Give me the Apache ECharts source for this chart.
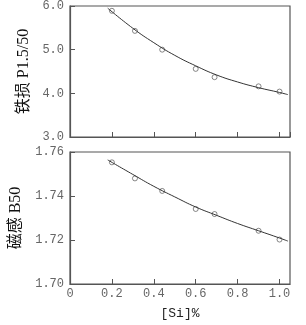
<!DOCTYPE html>
<html><head><meta charset="utf-8">
<script src="https://cdn.jsdelivr.net/npm/echarts@6/dist/echarts.min.js"></script>
<style>html,body{margin:0;padding:0;background:#fff}#c{width:306px;height:325px}</style>
</head><body><div id="c"></div>
<script>
// Data
var siPoints = [0.2, 0.31, 0.44, 0.6, 0.69, 0.9, 1.0];
var ironLoss = [5.89, 5.43, 5.0, 4.56, 4.37, 4.16, 4.04];
var inductionB50 = [1.7553, 1.748, 1.7423, 1.7341, 1.7318, 1.7242, 1.7202];
var fitX = [0.18, 0.3, 0.4, 0.5, 0.6, 0.7, 0.8, 0.9, 1.0, 1.04];
var ironLossFit = [5.95, 5.49, 5.16, 4.87, 4.63, 4.42, 4.26, 4.13, 4.02, 3.97];
var inductionFit = [1.7564, 1.7498, 1.7444, 1.7396, 1.7350, 1.7312, 1.7275, 1.7242, 1.7209, 1.7195];
var xTicks = [0, 0.2, 0.4, 0.6, 0.8, 1.0];
var xTickLabels = ['0', '0.2', '0.4', '0.6', '0.8', '1.0'];
var yTopTickLabels = ['3.0', '4.0', '5.0', '6.0'];
var yBotTickLabels = ['1.70', '1.72', '1.74', '1.76'];
var yTopTitle = '铁损 P1.5/50';
var yBotTitle = '磁感 B50';
var xTitle = '[Si]%';

function pairs(xs, ys){ return xs.map(function(x,i){return [x, ys[i]];}); }
var labelFont = {fontFamily:'Liberation Mono', fontSize:12, color:'#666'};
function xLabelFmt(v){ var i = xTicks.findIndex(function(t){return Math.abs(t-v)<1e-6;}); return i<0?'':xTickLabels[i]; }

var chart = echarts.init(document.getElementById('c'));
var axisLine = {show:true, lineStyle:{color:'#555', width:1.2}};
var tick = {show:true, inside:true, length:5, lineStyle:{color:'#555', width:1}};
var titleFont = {fontFamily:"'Liberation Serif','Noto Sans CJK SC'", fontSize:16, color:'#111'};
var markerStyle = {color:'#fff', borderColor:'#444', borderWidth:0.8};
chart.setOption({
  animation:false,
  grid:[
    {left:70, top:4, width:220, height:133, show:true, borderColor:'#555', borderWidth:1.2},
    {left:70, top:152, width:220, height:132, show:true, borderColor:'#555', borderWidth:1.2}
  ],
  xAxis:[
    {gridIndex:0, type:'value', min:0, max:1.05, interval:0.2, axisLine:axisLine, axisTick:tick, axisLabel:{show:false}, splitLine:{show:false}},
    {gridIndex:1, type:'value', min:0, max:1.05, interval:0.2, axisLine:axisLine, axisTick:tick,
     axisLabel:Object.assign({margin:4, formatter:xLabelFmt, showMaxLabel:false}, labelFont), splitLine:{show:false},
     name:xTitle, nameLocation:'middle', nameGap:23, nameTextStyle:{fontFamily:'Liberation Mono', fontSize:13, color:'#222'}}
  ],
  yAxis:[
    {gridIndex:0, type:'value', min:3, max:6, interval:1, axisLine:axisLine, axisTick:tick,
     axisLabel:Object.assign({margin:6, formatter:function(v){return yTopTickLabels[Math.round(v-3)];}}, labelFont), splitLine:{show:false},
     name:yTopTitle, nameLocation:'middle', nameGap:37, nameTextStyle:titleFont},
    {gridIndex:1, type:'value', min:1.70, max:1.76, interval:0.02, axisLine:axisLine, axisTick:tick,
     axisLabel:Object.assign({margin:6, formatter:function(v){return yBotTickLabels[Math.round((v-1.70)/0.02)];}}, labelFont), splitLine:{show:false},
     name:yBotTitle, nameLocation:'middle', nameGap:37, nameTextStyle:titleFont}
  ],
  series:[
    {type:'line', xAxisIndex:0, yAxisIndex:0, data:pairs(fitX, ironLossFit), smooth:true, showSymbol:false, lineStyle:{color:'#333', width:1}},
    {type:'scatter', xAxisIndex:0, yAxisIndex:0, data:pairs(siPoints, ironLoss), symbol:'circle', symbolSize:5, itemStyle:markerStyle},
    {type:'line', xAxisIndex:1, yAxisIndex:1, data:pairs(fitX, inductionFit), smooth:true, showSymbol:false, lineStyle:{color:'#333', width:1}},
    {type:'scatter', xAxisIndex:1, yAxisIndex:1, data:pairs(siPoints, inductionB50), symbol:'circle', symbolSize:5, itemStyle:markerStyle}
  ]
});
</script></body></html>
